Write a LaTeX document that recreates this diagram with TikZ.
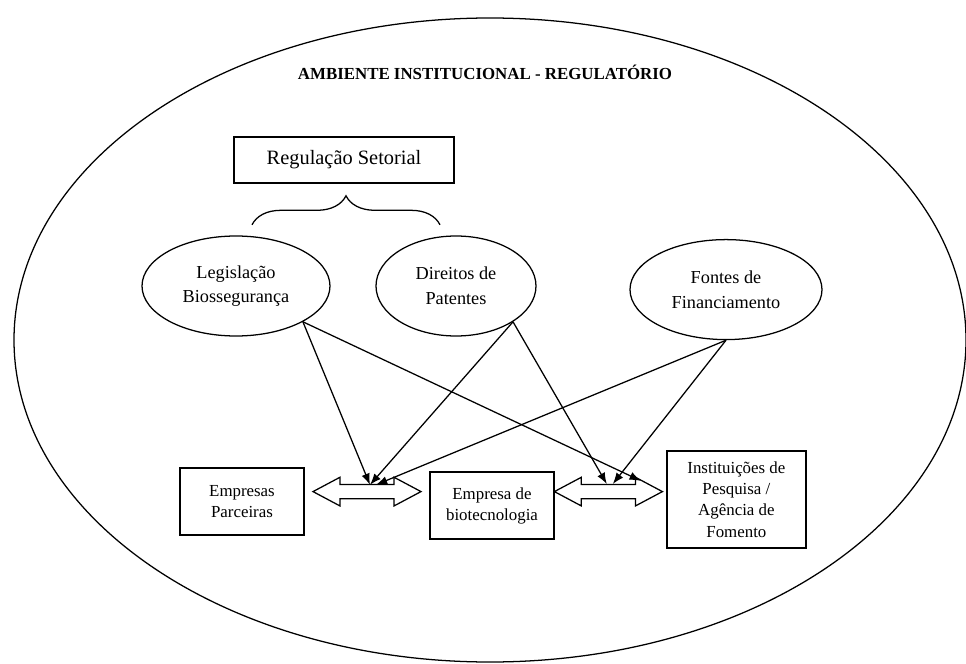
\documentclass[tikz,border=0pt]{standalone}
\usepackage{fontspec}
\setmainfont{Liberation Serif}
\usetikzlibrary{shapes.geometric,shapes.arrows,arrows.meta,decorations.pathreplacing}

\begin{document}
\begin{tikzpicture}[line width=0.9pt]
        \tikzstyle{caixa}=[rectangle, draw, align=center, inner sep=0pt, font=\fontsize{12pt}{15pt}\selectfont]
        \tikzstyle{elipse}=[ellipse, draw, align=center, inner sep=0pt, minimum height=2.5cm, font=\fontsize{13pt}{17.5pt}\selectfont]
        \tikzstyle{seta}=[double arrow, draw, minimum height=2.7cm, inner xsep=0pt, inner ysep=0.1625cm, double arrow head extend=0.18cm, double arrow tip angle=56]
        \tikzstyle{liga}=[-{Latex[length=8pt,width=6pt]}]

        \useasboundingbox (0,0) rectangle (24.15,-16.6);
        \draw (12.25,-8.5) ellipse (11.9cm and 8.05cm);
        \node[font=\fontsize{12pt}{14pt}\bfseries\selectfont] (titulo) at (12.125,-1.8) {AMBIENTE INSTITUCIONAL - REGULATÓRIO};

        \node[caixa, minimum width=5.5cm, minimum height=1.15cm, font=\fontsize{14.5pt}{17pt}\selectfont] (reg) at (8.6,-4.0) {Regulação Setorial};
        \draw[decorate, decoration={brace, amplitude=0.725cm}] (6.3,-5.62) -- (11.0,-5.62);

        \node[elipse, minimum width=4.7cm] (leg) at (5.9,-7.15) {Legislação\\Biossegurança};
        \node[elipse, minimum width=4cm]   (dir) at (11.4,-7.15) {Direitos de\\Patentes};
        \node[elipse, minimum width=4.8cm] (fon) at (18.15,-7.24) {Fontes de\\Financiamento};

        \node[caixa, minimum width=3.1cm, minimum height=1.675cm]   (parc) at (6.05,-12.54) {Empresas\\Parceiras};
        \node[caixa, minimum width=3.1cm, minimum height=1.675cm]   (bio)  at (12.3,-12.64) {Empresa de\\biotecnologia};
        \node[caixa, minimum width=3.475cm, minimum height=2.425cm] (inst) at (18.41,-12.49) {Instituições de\\Pesquisa /\\Agência de\\Fomento};

        \node[seta] (link1) at (9.175,-12.29) {};
        \node[seta] (link2) at (15.21,-12.29) {};

        \coordinate (in1)  at (9.25,-12.12);
        \coordinate (in1b) at (9.4,-12.12);
        \coordinate (in2a) at (15.17,-12.1);
        \coordinate (in2b) at (15.32,-12.1);
        \coordinate (in2c) at (16.02,-12.02);

        \draw[liga] (leg.south east) -- (in1);
        \draw[liga] (leg.south east) -- (in2c);
        \draw[liga] (dir.south east) -- (in1);
        \draw[liga] (dir.south east) -- (in2a);
        \draw[liga] (fon.south) -- (in1b);
        \draw[liga] (fon.south) -- (in2b);
\end{tikzpicture}
\end{document}
